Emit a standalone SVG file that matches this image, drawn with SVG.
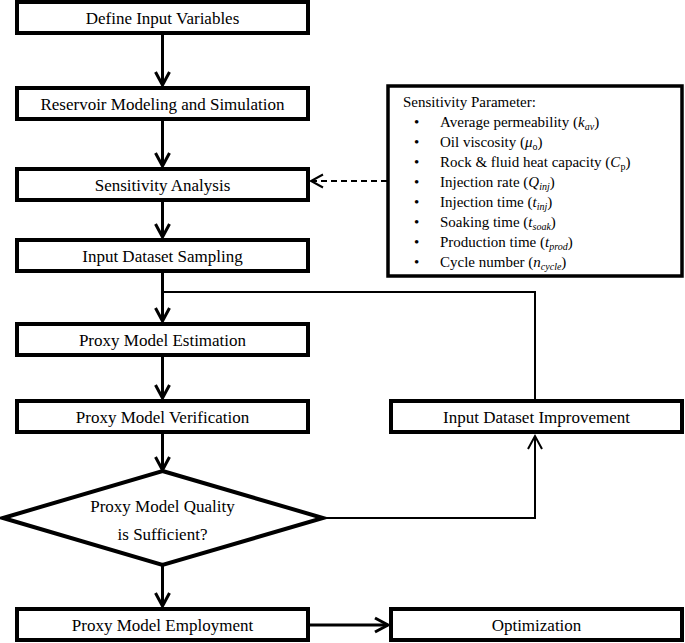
<svg xmlns="http://www.w3.org/2000/svg" width="685" height="643" viewBox="0 0 685 643">
<style>
  .box { fill: #fff; stroke: #000; stroke-width: 4; }
  .lbl { font-family: 'Liberation Serif', Tinos, 'Times New Roman', 'DejaVu Serif', serif; font-size: 17px; fill: #000; text-anchor: middle; }
  .sp { font-family: 'Liberation Serif', Tinos, 'Times New Roman', 'DejaVu Serif', serif; font-size: 15px; fill: #000; }
  .main { fill: none; stroke: #000; stroke-width: 3; }
  .thin { fill: none; stroke: #000; stroke-width: 2; }
  .dash { fill: none; stroke: #000; stroke-width: 2; stroke-dasharray: 6 4; }
  .sub { font-size: 10px; }
  .it { font-style: italic; }
</style>
<defs>
  <marker id="arr" markerUnits="userSpaceOnUse" markerWidth="20" markerHeight="20" refX="15" refY="9" orient="auto">
    <path d="M2,2 L15,9 L2,16" fill="none" stroke="#000" stroke-width="3"/>
  </marker>
  <marker id="arrThin" markerUnits="userSpaceOnUse" markerWidth="20" markerHeight="20" refX="15" refY="9" orient="auto">
    <path d="M2,2 L15,9 L2,16" fill="none" stroke="#000" stroke-width="2"/>
  </marker>
</defs>

<g id="connectors">
  <line class="main" x1="162.5" y1="34" x2="162.5" y2="85" marker-end="url(#arr)"/>
  <line class="main" x1="162.5" y1="121" x2="162.5" y2="166" marker-end="url(#arr)"/>
  <line class="main" x1="162.5" y1="202" x2="162.5" y2="237" marker-end="url(#arr)"/>
  <line class="main" x1="162.5" y1="273" x2="162.5" y2="321" marker-end="url(#arr)"/>
  <line class="main" x1="162.5" y1="357" x2="162.5" y2="398" marker-end="url(#arr)"/>
  <line class="main" x1="162.5" y1="434" x2="162.5" y2="470" marker-end="url(#arr)"/>
  <line class="main" x1="162.5" y1="565" x2="162.5" y2="606" marker-end="url(#arr)"/>
  <line class="main" x1="310" y1="625" x2="388" y2="625" marker-end="url(#arr)"/>
  <polyline class="thin" points="162.5,292 535,292 535,400"/>
  <polyline class="thin" points="323,518 535,518 535,436" marker-end="url(#arrThin)"/>
  <line class="dash" x1="387" y1="181" x2="312" y2="181"/>
  <path d="M323,174.5 L311,181 L323,187.5" fill="none" stroke="#000" stroke-width="2"/>
</g>

<g id="n1"><rect class="box" x="17" y="2" width="291" height="31"/><text class="lbl" font-family="Liberation Serif, serif" x="162.5" y="23.5">Define Input Variables</text></g>
<g id="n2"><rect class="box" x="17" y="88" width="291" height="31"/><text class="lbl" x="162.5" y="109.5">Reservoir Modeling and Simulation</text></g>
<g id="n3"><rect class="box" x="17" y="169" width="291" height="31"/><text class="lbl" x="162.5" y="190.5">Sensitivity Analysis</text></g>
<g id="n4"><rect class="box" x="17" y="240" width="291" height="31"/><text class="lbl" x="162.5" y="261.5">Input Dataset Sampling</text></g>
<g id="n5"><rect class="box" x="17" y="324" width="291" height="31"/><text class="lbl" x="162.5" y="345.5">Proxy Model Estimation</text></g>
<g id="n6"><rect class="box" x="17" y="401" width="291" height="31"/><text class="lbl" x="162.5" y="422.5">Proxy Model Verification</text></g>
<g id="n7"><rect class="box" x="391" y="401" width="291" height="31"/><text class="lbl" x="536.5" y="422.5">Input Dataset Improvement</text></g>
<g id="n8"><polygon class="box" points="162.5,471 323,518 162.5,565 3,518"/><text class="lbl" x="162.5" y="512">Proxy Model Quality</text><text class="lbl" x="162.5" y="540">is Sufficient?</text></g>
<g id="n9"><rect class="box" x="17" y="609" width="291" height="31"/><text class="lbl" x="162.5" y="630.5">Proxy Model Employment</text></g>
<g id="n10"><rect class="box" x="391" y="609" width="291" height="31"/><text class="lbl" x="536.5" y="630.5">Optimization</text></g>

<g id="n11">
  <rect x="388" y="86" width="294" height="190" fill="#fff" stroke="#000" stroke-width="3.5"/>
  <text class="sp" x="403" y="107">Sensitivity Parameter:</text>
  <g class="sp">
    <text x="414" y="127">•</text><text x="440" y="127">Average permeability (<tspan class="it">k</tspan><tspan class="it sub" dy="3">av</tspan><tspan dy="-3">)</tspan></text>
    <text x="414" y="147">•</text><text x="440" y="147">Oil viscosity (<tspan class="it">μ</tspan><tspan class="sub" dy="3">o</tspan><tspan dy="-3">)</tspan></text>
    <text x="414" y="167">•</text><text x="440" y="167">Rock &amp; fluid heat capacity (<tspan class="it">C</tspan><tspan class="sub" dy="3">p</tspan><tspan dy="-3">)</tspan></text>
    <text x="414" y="187">•</text><text x="440" y="187">Injection rate (<tspan class="it">Q</tspan><tspan class="it sub" dy="3">inj</tspan><tspan dy="-3">)</tspan></text>
    <text x="414" y="207">•</text><text x="440" y="207">Injection time (<tspan class="it">t</tspan><tspan class="it sub" dy="3">inj</tspan><tspan dy="-3">)</tspan></text>
    <text x="414" y="227">•</text><text x="440" y="227">Soaking time (<tspan class="it">t</tspan><tspan class="it sub" dy="3">soak</tspan><tspan dy="-3">)</tspan></text>
    <text x="414" y="247">•</text><text x="440" y="247">Production time (<tspan class="it">t</tspan><tspan class="it sub" dy="3">prod</tspan><tspan dy="-3">)</tspan></text>
    <text x="414" y="267">•</text><text x="440" y="267">Cycle number (<tspan class="it">n</tspan><tspan class="it sub" dy="3">cycle</tspan><tspan dy="-3">)</tspan></text>
  </g>
</g>
</svg>
